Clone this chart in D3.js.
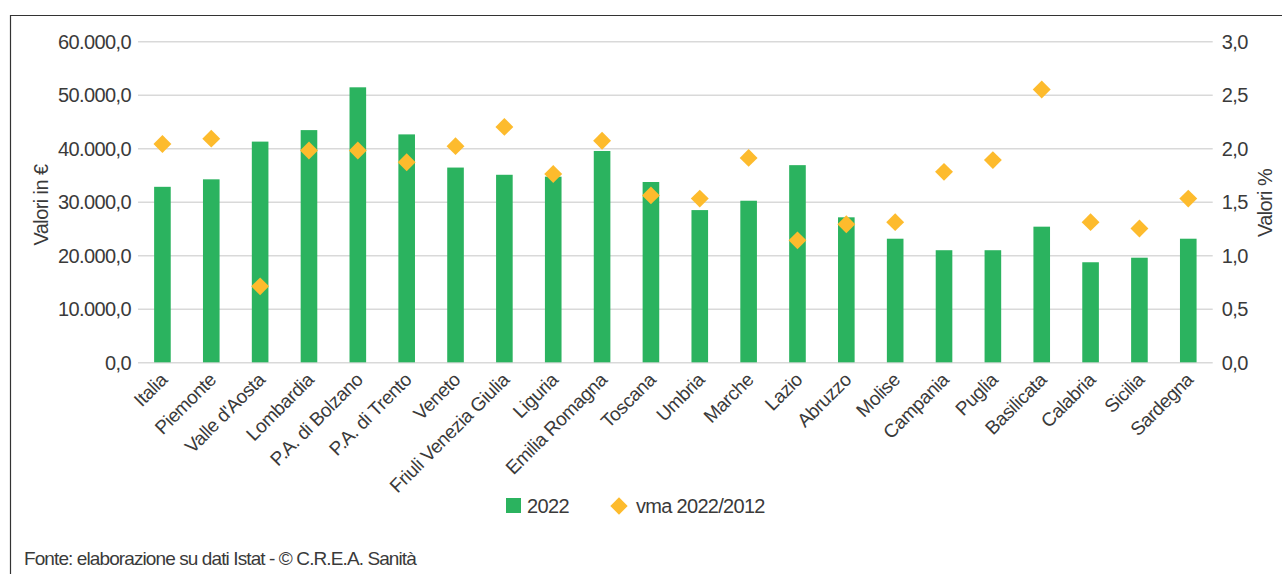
<!DOCTYPE html>
<html>
<head>
<meta charset="utf-8">
<script src="https://cdn.jsdelivr.net/npm/d3@7"></script>
<style>
  html, body { margin: 0; padding: 0; background: #fff; }
  svg { display: block; }
  text { font-family: "Liberation Sans", Arial, sans-serif; fill: #3a3a3a; }
</style>
</head>
<body>
<svg id="chart" width="1282" height="574"></svg>
<script>
const categories = ["Italia","Piemonte","Valle d'Aosta","Lombardia","P.A. di Bolzano","P.A. di Trento","Veneto","Friuli Venezia Giulia","Liguria","Emilia Romagna","Toscana","Umbria","Marche","Lazio","Abruzzo","Molise","Campania","Puglia","Basilicata","Calabria","Sicilia","Sardegna"];
const values2022 = [32800,34200,41250,43400,51400,42600,36400,35050,34700,39500,33700,28450,30200,36850,27100,23100,20950,20950,25350,18700,19550,23100];
const vma = [2.04,2.09,0.71,1.98,1.98,1.87,2.02,2.20,1.76,2.07,1.56,1.53,1.91,1.14,1.29,1.31,1.78,1.89,2.55,1.31,1.25,1.53];
const leftTicks = [0,10000,20000,30000,40000,50000,60000];
const rightTicks = [0,0.5,1,1.5,2,2.5,3];
const seriesNames = ["2022","vma 2022/2012"];
const axisTitles = ["Valori in €","Valori %"];
const sourceNote = "Fonte: elaborazione su dati Istat - © C.R.E.A. Sanità";

const green = "#2bb35f", gold = "#fdbb2d", grid = "#d9d9d9";
const plot = {left: 138, right: 1212.7, top: 41.3, bottom: 362.3};

const it = d3.formatLocale({decimal: ",", thousands: ".", grouping: [3], currency: ["€", ""]});
const fmt = it.format(",.1f");

const svg = d3.select("#chart");

// frame
svg.append("path").attr("d", "M10.5,574 V15.5 H1282").attr("fill", "none").attr("stroke", "#333").attr("stroke-width", 1.2);

const x = d3.scaleBand().domain(categories).range([plot.left, plot.right]).paddingInner(0.66).paddingOuter(0.33);
const yL = d3.scaleLinear().domain([0, 60000]).range([plot.bottom, plot.top]);
const yR = d3.scaleLinear().domain([0, 3]).range([plot.bottom, plot.top]);

// grid + left axis
const gL = svg.append("g").attr("transform", `translate(${plot.left},0)`)
  .call(d3.axisLeft(yL).tickValues(leftTicks).tickFormat(fmt).tickSize(-(plot.right - plot.left)).tickPadding(7));
gL.select(".domain").remove();
gL.selectAll(".tick line").attr("stroke", grid).attr("stroke-width", 1.6);
gL.selectAll(".tick text").attr("font-size", 20).attr("letter-spacing", "-0.6px").attr("fill", "#3a3a3a")
  .style("font-family", "'Liberation Sans', Arial, sans-serif").attr("dy", "0.35em");

const gR = svg.append("g").attr("transform", `translate(${plot.right},0)`)
  .call(d3.axisRight(yR).tickValues(rightTicks).tickFormat(it.format(".1f")).tickSize(0).tickPadding(9));
gR.select(".domain").remove();
gR.selectAll(".tick text").attr("font-size", 20).attr("letter-spacing", "-0.6px").attr("fill", "#3a3a3a")
  .style("font-family", "'Liberation Sans', Arial, sans-serif").attr("dy", "0.35em");

// bars
svg.append("g").selectAll("rect").data(categories).join("rect")
  .attr("x", d => x(d)).attr("width", x.bandwidth())
  .attr("y", (d, i) => yL(values2022[i])).attr("height", (d, i) => yL(0) - yL(values2022[i]))
  .attr("fill", green);

// diamonds
const diamond = d3.symbol().type(d3.symbolSquare).size(160);
svg.append("g").selectAll("path").data(categories).join("path")
  .attr("d", diamond)
  .attr("transform", (d, i) => `translate(${x(d) + x.bandwidth() / 2},${yR(vma[i])}) rotate(45)`)
  .attr("fill", gold);

// x labels
svg.append("g").selectAll("text").data(categories).join("text")
  .attr("transform", d => `translate(${x(d) + x.bandwidth() / 2 + 6},381) rotate(-45)`)
  .attr("text-anchor", "end").attr("font-size", 19).attr("letter-spacing", "-0.4px")
  .text(d => d);

// axis titles
svg.append("text").attr("transform", "translate(48,205) rotate(-90)").attr("text-anchor", "middle")
  .attr("font-size", 20).attr("letter-spacing", "-0.6px").text(axisTitles[0]);
svg.append("text").attr("transform", "translate(1272,203) rotate(-90)").attr("text-anchor", "middle")
  .attr("font-size", 20).attr("letter-spacing", "-0.6px").text(axisTitles[1]);

// legend
const lg = svg.append("g");
lg.append("rect").attr("x", 506).attr("y", 498).attr("width", 15).attr("height", 15).attr("fill", green);
lg.append("text").attr("x", 527).attr("y", 513).attr("font-size", 20).attr("letter-spacing", "-0.6px").text(seriesNames[0]);
lg.append("path").attr("d", d3.symbol().type(d3.symbolSquare).size(150)).attr("transform", "translate(619,506) rotate(45)").attr("fill", gold);
lg.append("text").attr("x", 636).attr("y", 513).attr("font-size", 20).attr("letter-spacing", "-0.7px").text(seriesNames[1]);

// source
svg.append("text").attr("x", 24).attr("y", 565).attr("font-size", 19).attr("letter-spacing", "-0.9px").text(sourceNote);
</script>
</body>
</html>
